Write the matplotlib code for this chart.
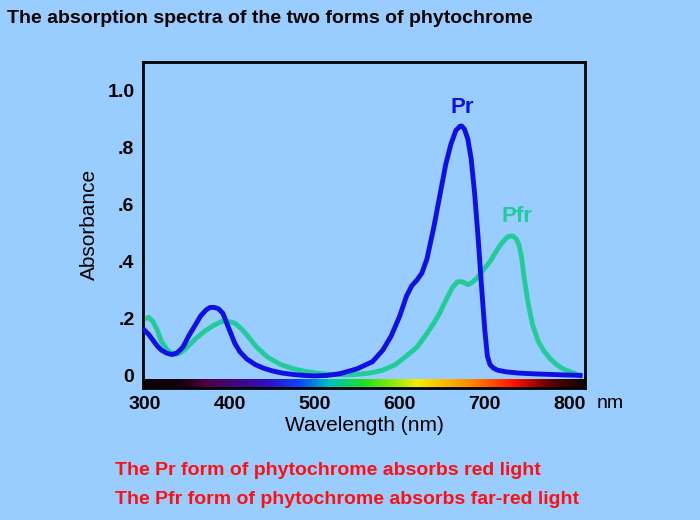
import numpy as np
import matplotlib.pyplot as plt
from matplotlib.colors import LinearSegmentedColormap

plt.rcParams['font.family'] = ['Liberation Sans', 'DejaVu Sans']
plt.rcParams['font.weight'] = 'bold'

# values
pr_wl = [300, 305, 310, 315, 320, 326, 332, 338, 345, 352, 360, 366, 372, 377, 382, 387, 392, 396, 400, 406, 412, 420, 430, 440, 451, 462, 475, 487, 500, 515, 530, 550, 568, 580, 590, 600, 608, 614, 620, 626, 632, 640, 647, 654, 660, 666, 671, 673, 676, 680, 684, 688, 692, 696, 700, 703, 706, 710, 715, 726, 740, 760, 780, 800, 812]
pr_abs = [0.16, 0.145, 0.125, 0.105, 0.09, 0.08, 0.075, 0.08, 0.10, 0.14, 0.18, 0.21, 0.23, 0.24, 0.24, 0.235, 0.22, 0.19, 0.16, 0.115, 0.085, 0.06, 0.04, 0.027, 0.017, 0.01, 0.005, 0.002, 0.0, 0.002, 0.008, 0.025, 0.05, 0.09, 0.14, 0.21, 0.28, 0.315, 0.335, 0.36, 0.41, 0.52, 0.63, 0.74, 0.81, 0.86, 0.875, 0.875, 0.865, 0.83, 0.76, 0.64, 0.49, 0.32, 0.16, 0.07, 0.04, 0.028, 0.02, 0.014, 0.01, 0.007, 0.005, 0.003, 0.002]
pfr_wl = [300, 305, 310, 315, 320, 327, 335, 342, 350, 360, 370, 380, 390, 400, 406, 412, 420, 432, 445, 460, 475, 490, 505, 520, 535, 548, 565, 580, 595, 608, 620, 630, 640, 647, 655, 662, 668, 673, 677, 680, 684, 690, 698, 706, 714, 720, 726, 730, 733, 737, 740, 743, 746, 750, 756, 763, 770, 777, 784, 792, 800, 812]
pfr_abs = [0.20, 0.205, 0.19, 0.16, 0.12, 0.09, 0.075, 0.08, 0.10, 0.13, 0.155, 0.175, 0.19, 0.19, 0.185, 0.17, 0.145, 0.10, 0.065, 0.04, 0.025, 0.015, 0.009, 0.005, 0.004, 0.005, 0.01, 0.02, 0.04, 0.07, 0.10, 0.14, 0.185, 0.22, 0.27, 0.31, 0.33, 0.33, 0.325, 0.32, 0.325, 0.34, 0.37, 0.40, 0.44, 0.465, 0.485, 0.49, 0.49, 0.48, 0.46, 0.42, 0.35, 0.27, 0.18, 0.12, 0.085, 0.06, 0.04, 0.025, 0.015, 0.0]
y_ticks = [0, 0.2, 0.4, 0.6, 0.8, 1.0]
y_labels = ["0", ".2", ".4", ".6", ".8", "1.0"]
x_ticks = [300, 400, 500, 600, 700, 800]

bg = "#99ccff"
fig = plt.figure(figsize=(7, 5.2), dpi=100, facecolor=bg)
ax = fig.add_axes([0.204, 0.254, 0.632, 0.627], facecolor=bg)

# spectrum bar along the bottom
spec = LinearSegmentedColormap.from_list("spec", [
    (0.0, "#100008"), (0.08, "#100008"), (0.14, "#500040"), (0.28, "#3010c0"),
    (0.35, "#1040ff"), (0.42, "#00c0c0"), (0.5, "#20e020"), (0.62, "#f0f000"),
    (0.75, "#ff8000"), (0.84, "#ff1000"), (0.92, "#600000"), (1.0, "#100008")])
ax.imshow(np.linspace(0, 1, 256)[None, :], cmap=spec, aspect="auto",
          extent=[298, 818, -0.042, -0.012], zorder=1)

ax.plot(pr_wl, pr_abs, color="#1010e6", lw=3.5, zorder=3, solid_joinstyle="round")
ax.plot(pfr_wl, pfr_abs, color="#22cc99", lw=3.5, zorder=2, solid_joinstyle="round")
ax.text(673, 0.92, "Pr", color="#1010e6", fontsize=16, ha="center")
ax.text(738, 0.54, "Pfr", color="#22cc99", fontsize=16, ha="center")

ax.set_xlim(298, 818)
ax.set_ylim(-0.042, 1.1)
ax.set_yticks(y_ticks, y_labels)
ax.set_xticks(x_ticks)
ax.tick_params(length=0, labelsize=14, pad=6)
for s in ax.spines.values():
    s.set_linewidth(2)
ax.set_xlabel("Wavelength (nm)", fontsize=15, labelpad=2)
ax.set_ylabel("Absorbance", fontsize=15, labelpad=6)
fig.text(0.853, 0.224, "nm", fontsize=14, va="center", fontweight="normal")

fig.text(0.01, 0.965, "The absorption spectra of the two forms of phytochrome",
         fontsize=14, va="center")
fig.text(0.164, 0.095, "The Pr form of phytochrome absorbs red light",
         fontsize=14, color="#ff1010", va="center")
fig.text(0.164, 0.040, "The Pfr form of phytochrome absorbs far-red light",
         fontsize=14, color="#ff1010", va="center")

fig.savefig("out.png", dpi=100, facecolor=bg)
